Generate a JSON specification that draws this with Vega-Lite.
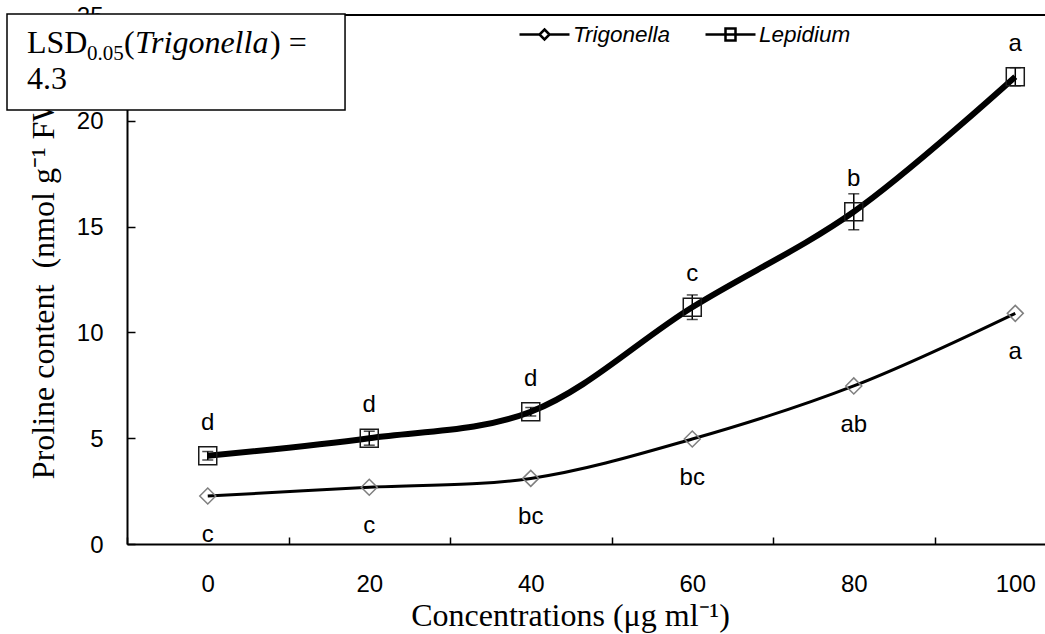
{
  "$schema": "https://vega.github.io/schema/vega-lite/v6.json",
  "width": 918,
  "height": 529,
  "autosize": {"type": "none"},
  "padding": {"left": 127, "top": 15, "right": 0, "bottom": 90},
  "background": "white",
  "config": {"view": {"stroke": null}, "axis": {"grid": false}},
  "resolve": {"axis": {"x": "independent", "y": "independent"}},
  "datasets": {
    "series": [
      {"conc": 0, "species": "Trigonella", "value": 2.27, "low": 2.27, "high": 2.27, "letter": "c"},
      {"conc": 20, "species": "Trigonella", "value": 2.68, "low": 2.68, "high": 2.68, "letter": "c"},
      {"conc": 40, "species": "Trigonella", "value": 3.1, "low": 3.1, "high": 3.1, "letter": "bc"},
      {"conc": 60, "species": "Trigonella", "value": 4.96, "low": 4.96, "high": 4.96, "letter": "bc"},
      {"conc": 80, "species": "Trigonella", "value": 7.47, "low": 7.47, "high": 7.47, "letter": "ab"},
      {"conc": 100, "species": "Trigonella", "value": 10.9, "low": 10.9, "high": 10.9, "letter": "a"},
      {"conc": 0, "species": "Lepidium", "value": 4.17, "low": 3.97, "high": 4.37, "letter": "d"},
      {"conc": 20, "species": "Lepidium", "value": 5.0, "low": 4.67, "high": 5.33, "letter": "d"},
      {"conc": 40, "species": "Lepidium", "value": 6.25, "low": 6.05, "high": 6.45, "letter": "d"},
      {"conc": 60, "species": "Lepidium", "value": 11.19, "low": 10.61, "high": 11.77, "letter": "c"},
      {"conc": 80, "species": "Lepidium", "value": 15.7, "low": 14.85, "high": 16.55, "letter": "b"},
      {"conc": 100, "species": "Lepidium", "value": 22.08, "low": 21.65, "high": 22.51, "letter": "a"}
    ]
  },
  "layer": [
    {
      "data": {"values": [{}]},
      "mark": {"type": "rule", "color": "black", "strokeWidth": 2},
      "encoding": {
        "y": {"datum": 25, "type": "quantitative", "scale": {"domain": [0, 25], "nice": false, "zero": false}, "axis": null}
      }
    },
    {
      "data": {"name": "series"},
      "mark": {"type": "line", "interpolate": "catmull-rom", "color": "black"},
      "encoding": {
        "x": {
          "field": "conc", "type": "quantitative",
          "scale": {"domain": [-10, 103.68], "nice": false, "zero": false},
          "axis": {
            "values": [-10, 0, 10, 20, 30, 40, 50, 60, 70, 80, 90, 100],
            "title": "Concentrations (μg ml⁻¹)",
            "labelExpr": "datum.value % 20 == 0 ? datum.label : ''",
            "tickOpacity": {"condition": {"test": "datum.value % 20 == 0", "value": 0}, "value": 1},
            "tickSize": -7, "tickWidth": 1.5, "tickColor": "black",
            "domainColor": "black", "domainWidth": 2,
            "labelFont": "Liberation Sans", "labelFontSize": 24, "labelColor": "black", "labelPadding": 35,
            "labelFlush": false, "labelOverlap": false, "labelBaseline": "top",
            "titleFont": "Liberation Serif", "titleFontSize": 32, "titleFontWeight": "normal", "titleColor": "black",
            "titleX": 443, "titleY": 81, "titleBaseline": "alphabetic", "titleAlign": "center"
          }
        },
        "y": {
          "field": "value", "type": "quantitative",
          "scale": {"domain": [0, 25], "nice": false, "zero": false},
          "axis": {
            "values": [0, 5, 10, 15, 20, 25],
            "title": "Proline content\u00a0 (nmol g⁻¹ FW)",
            "tickSize": -8, "tickWidth": 1.5, "tickColor": "black",
            "domainColor": "black", "domainWidth": 2,
            "labelFont": "Liberation Sans", "labelFontSize": 24, "labelColor": "black", "labelPadding": 32,
            "labelOverlap": false, "labelFlush": false, "labelOffset": 1,
            "titleFont": "Liberation Serif", "titleFontSize": 32, "titleFontWeight": "normal", "titleColor": "black",
            "titleX": -74, "titleY": 264.5, "titleAngle": -90, "titleBaseline": "alphabetic", "titleAlign": "center"
          }
        },
        "detail": {"field": "species", "type": "nominal"},
        "strokeWidth": {"condition": {"test": "datum.species === 'Lepidium'", "value": 6}, "value": 3}
      }
    },
    {
      "data": {"name": "series"},
      "transform": [{"filter": "datum.species === 'Lepidium'"}],
      "mark": {"type": "errorbar", "ticks": {"size": 11, "color": "black", "thickness": 1.5}, "rule": {"color": "black", "strokeWidth": 1.5}},
      "encoding": {
        "x": {"field": "conc", "type": "quantitative", "scale": {"domain": [-10, 103.68], "nice": false, "zero": false}, "axis": null},
        "y": {"field": "low", "type": "quantitative", "scale": {"domain": [0, 25], "nice": false, "zero": false}, "axis": null},
        "y2": {"field": "high"}
      }
    },
    {
      "data": {"name": "series"},
      "mark": {"type": "point", "filled": false, "strokeWidth": 1.5, "opacity": 1},
      "encoding": {
        "x": {"field": "conc", "type": "quantitative", "scale": {"domain": [-10, 103.68], "nice": false, "zero": false}, "axis": null},
        "y": {"field": "value", "type": "quantitative", "scale": {"domain": [0, 25], "nice": false, "zero": false}, "axis": null},
        "shape": {"condition": {"test": "datum.species === 'Lepidium'", "value": "square"}, "value": "diamond"},
        "size": {"condition": {"test": "datum.species === 'Lepidium'", "value": 324}, "value": 256},
        "stroke": {"condition": {"test": "datum.species === 'Lepidium'", "value": "#1a1a1a"}, "value": "#7f7f7f"}
      }
    },
    {
      "data": {"name": "series"},
      "transform": [{"filter": "false"}],
      "mark": {"type": "point", "filled": false, "color": "black", "strokeWidth": 2.5, "opacity": 1},
      "encoding": {
        "x": {"field": "conc", "type": "quantitative", "scale": {"domain": [-10, 103.68], "nice": false, "zero": false}, "axis": null},
        "y": {"field": "value", "type": "quantitative", "scale": {"domain": [0, 25], "nice": false, "zero": false}, "axis": null},
        "shape": {
          "field": "species", "type": "nominal",
          "scale": {"domain": ["Trigonella", "Lepidium"], "range": ["M-1,0H-0.2M0.2,0H1M0,-0.2L0.2,0L0,0.2L-0.2,0Z", "M-1,0H1M-0.2,-0.24H0.2V0.24H-0.2Z"]},
          "legend": {
            "title": null, "orient": "none", "legendX": 391, "legendY": -7, "direction": "horizontal",
            "symbolSize": 2500, "padding": 0,
            "labelFont": "Liberation Sans", "labelFontSize": 22.5, "labelFontStyle": "italic", "labelColor": "black",
            "labelOffset": 2, "columnPadding": 29,
            "symbolStrokeWidth": 2.5, "symbolStrokeColor": "black", "symbolFillColor": "transparent"
          }
        }
      }
    },
    {
      "data": {"name": "series"},
      "transform": [{"filter": "datum.species === 'Lepidium'"}],
      "mark": {"type": "text", "font": "Liberation Sans", "fontSize": 24, "color": "black", "baseline": "alphabetic", "dy": -26},
      "encoding": {
        "x": {"field": "conc", "type": "quantitative", "scale": {"domain": [-10, 103.68], "nice": false, "zero": false}, "axis": null},
        "y": {"field": "value", "type": "quantitative", "scale": {"domain": [0, 25], "nice": false, "zero": false}, "axis": null},
        "text": {"field": "letter"}
      }
    },
    {
      "data": {"name": "series"},
      "transform": [{"filter": "datum.species === 'Trigonella'"}],
      "mark": {"type": "text", "font": "Liberation Sans", "fontSize": 24, "color": "black", "baseline": "alphabetic", "dy": 46},
      "encoding": {
        "x": {"field": "conc", "type": "quantitative", "scale": {"domain": [-10, 103.68], "nice": false, "zero": false}, "axis": null},
        "y": {"field": "value", "type": "quantitative", "scale": {"domain": [0, 25], "nice": false, "zero": false}, "axis": null},
        "text": {"field": "letter"}
      }
    },
    {
      "data": {"values": [{}]},
      "mark": {"type": "rect", "fill": "white", "stroke": "black", "strokeWidth": 1.5},
      "encoding": {
        "x": {"datum": -24.86, "type": "quantitative", "scale": {"domain": [-10, 103.68], "nice": false, "zero": false}, "axis": null},
        "x2": {"datum": 17.0},
        "y": {"datum": 25.05, "type": "quantitative", "scale": {"domain": [0, 25], "nice": false, "zero": false}, "axis": null},
        "y2": {"datum": 20.51}
      }
    },
    {
      "data": {"values": [{}]},
      "mark": {"type": "text", "text": "LSD", "font": "Liberation Serif", "fontSize": 32, "align": "left", "baseline": "alphabetic", "color": "black"},
      "encoding": {
        "x": {"datum": -22.38, "type": "quantitative", "scale": {"domain": [-10, 103.68], "nice": false, "zero": false}, "axis": null},
        "y": {"datum": 23.2, "type": "quantitative", "scale": {"domain": [0, 25], "nice": false, "zero": false}, "axis": null}
      }
    },
    {
      "data": {"values": [{}]},
      "mark": {"type": "text", "text": "0.05", "font": "Liberation Serif", "fontSize": 21, "align": "left", "baseline": "alphabetic", "color": "black", "dx": 60, "dy": 7},
      "encoding": {
        "x": {"datum": -22.38, "type": "quantitative", "scale": {"domain": [-10, 103.68], "nice": false, "zero": false}, "axis": null},
        "y": {"datum": 23.2, "type": "quantitative", "scale": {"domain": [0, 25], "nice": false, "zero": false}, "axis": null}
      }
    },
    {
      "data": {"values": [{}]},
      "mark": {"type": "text", "text": "(", "font": "Liberation Serif", "fontSize": 32, "align": "left", "baseline": "alphabetic", "color": "black", "dx": 97},
      "encoding": {
        "x": {"datum": -22.38, "type": "quantitative", "scale": {"domain": [-10, 103.68], "nice": false, "zero": false}, "axis": null},
        "y": {"datum": 23.2, "type": "quantitative", "scale": {"domain": [0, 25], "nice": false, "zero": false}, "axis": null}
      }
    },
    {
      "data": {"values": [{}]},
      "mark": {"type": "text", "text": "Trigonella", "font": "Liberation Serif", "fontSize": 32, "fontStyle": "italic", "align": "left", "baseline": "alphabetic", "color": "black", "dx": 108},
      "encoding": {
        "x": {"datum": -22.38, "type": "quantitative", "scale": {"domain": [-10, 103.68], "nice": false, "zero": false}, "axis": null},
        "y": {"datum": 23.2, "type": "quantitative", "scale": {"domain": [0, 25], "nice": false, "zero": false}, "axis": null}
      }
    },
    {
      "data": {"values": [{}]},
      "mark": {"type": "text", "text": ") =", "font": "Liberation Serif", "fontSize": 32, "align": "left", "baseline": "alphabetic", "color": "black", "dx": 243},
      "encoding": {
        "x": {"datum": -22.38, "type": "quantitative", "scale": {"domain": [-10, 103.68], "nice": false, "zero": false}, "axis": null},
        "y": {"datum": 23.2, "type": "quantitative", "scale": {"domain": [0, 25], "nice": false, "zero": false}, "axis": null}
      }
    },
    {
      "data": {"values": [{}]},
      "mark": {"type": "text", "text": "4.3", "font": "Liberation Serif", "fontSize": 32, "align": "left", "baseline": "alphabetic", "color": "black"},
      "encoding": {
        "x": {"datum": -22.38, "type": "quantitative", "scale": {"domain": [-10, 103.68], "nice": false, "zero": false}, "axis": null},
        "y": {"datum": 21.5, "type": "quantitative", "scale": {"domain": [0, 25], "nice": false, "zero": false}, "axis": null}
      }
    }
  ]
}
